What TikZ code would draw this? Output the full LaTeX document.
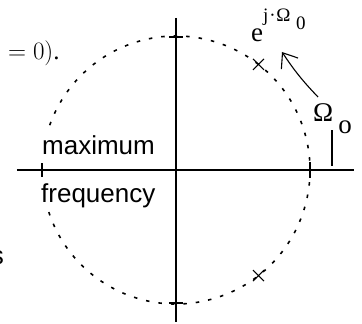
\RequirePackage{fix-cm}
\documentclass[tikz,border=0pt]{standalone}
\usepackage{fontspec}
\setmainfont{Liberation Serif}
\setsansfont{Liberation Sans}
\usetikzlibrary{arrows.meta,positioning}

\begin{document}
\begin{tikzpicture}[x=1pt, y=1pt,
    axis/.style={line width=1.5pt},
    circ/.style={line width=1.6pt, dash pattern=on 3.5pt off 9pt},
    tickmark/.style={line width=1.3pt},
    axlabel/.style={font=\sffamily\fontsize{26}{30}\selectfont, inner sep=0pt, anchor=base west},
    rmlabel/.style={font=\fontsize{27}{30}\selectfont, inner sep=0pt, anchor=base west},
    suplabel/.style={font=\fontsize{19}{22}\selectfont, inner sep=0pt, anchor=base west}]
    \useasboundingbox (-176,-154) rectangle (186,170);

    % axes
    \coordinate (west) at (-159,0);
    \coordinate (east) at (178,0);
    \coordinate (north) at (0,152);
    \coordinate (south) at (0,-152);
    \draw[axis] (west) -- (east);
    \draw[axis] (north) -- (south);

    % unit circle, open where the labels sit
    \draw[circ] (-161.7:134pt) arc[start angle=-161.7, end angle=161.7, radius=134pt];
    \draw[tickmark] (-134,-7) -- (-134,7);
    \draw[tickmark] (134,-8) -- (134,8);
    \draw[tickmark] (-7,133) -- (7,133);
    \draw[tickmark] (-7,-133) -- (7,-133);

    % poles
    \foreach \a in {52,-52}
        \draw[line width=1pt] (\a:134pt) +(-5.5,-5.5) -- +(5.5,5.5) +(-5.5,5.5) -- +(5.5,-5.5);

    % labels
    \node[axlabel] (maxi) at (-134,15) {maximum};
    \node[axlabel] (freq) at (-135,-33) {frequency};
    \node[axlabel, anchor=base east] (cut) at (-172,-95) {s};
    \node[font=\fontsize{25}{30}\selectfont, inner sep=0pt, anchor=base west] (cond) at (-175,110) {${}=0)$.};

    \node[rmlabel] (omega) at (137,48) {Ω\hspace{5pt}\raisebox{-12pt}{o}};
    \node[rmlabel] (expo) at (75,128) {e};
    \node[suplabel] (expoarg) at (87,148) {j\hspace{1pt}·\hspace{0.5pt}Ω};
    \node[suplabel] (expoidx) at (120,140) {0};

    % angle arrow
    \coordinate (arcbot) at (156,4);
    \coordinate (arcmid) at (156,40);
    \coordinate (arcup) at (142,73);
    \coordinate (arctip) at (106,118);
    \draw[line width=1.1pt] (arcbot) -- (arcmid);
    \draw[line width=1.1pt, -{Straight Barb[length=13pt, width=20pt]}] (arcup) to[bend left=5] (arctip);
\end{tikzpicture}
\end{document}
